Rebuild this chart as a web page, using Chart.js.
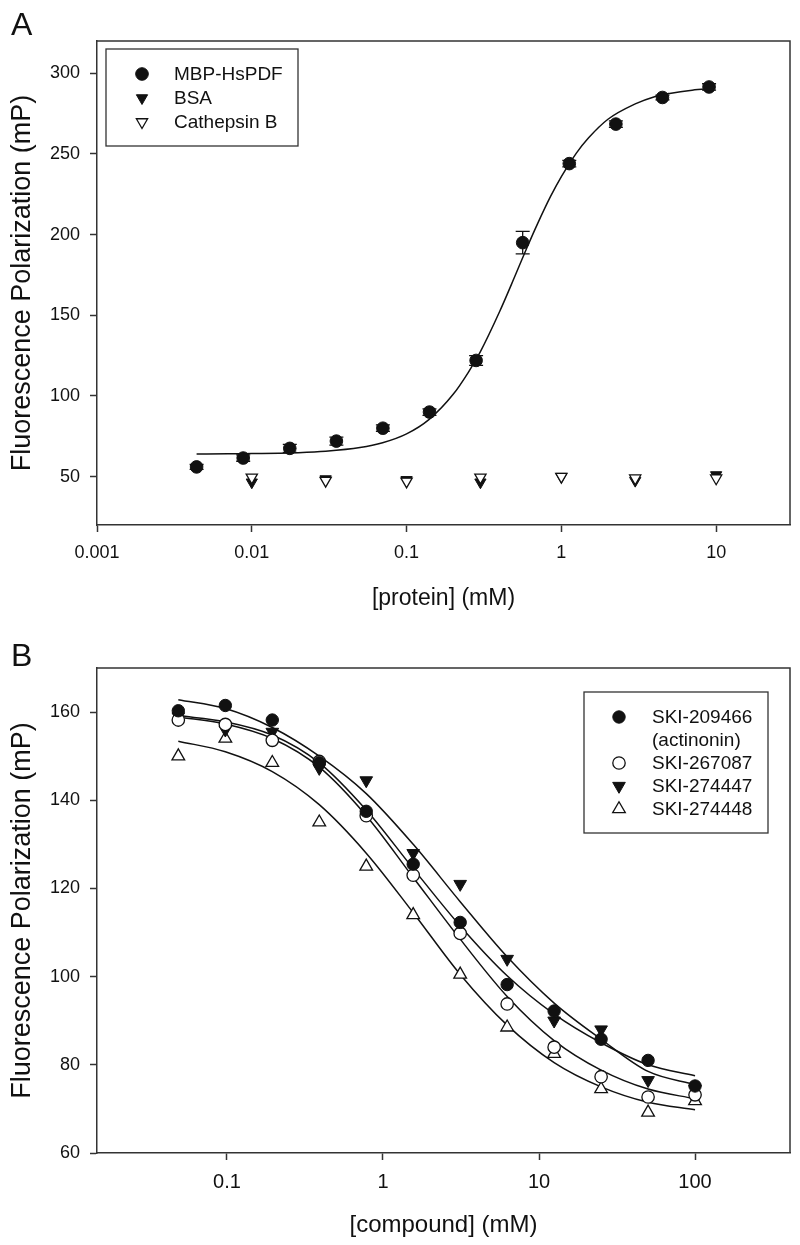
<!DOCTYPE html>
<html>
<head>
<meta charset="utf-8">
<script src="https://cdn.jsdelivr.net/npm/chart.js@4.4.0/dist/chart.umd.min.js"></script>
<style>
    body {
        margin: 0;
        width: 800px;
        height: 1245px;
        background: #fff;
        position: relative;
        overflow: hidden;
        font-family: "Liberation Sans", Arial, sans-serif;
    }
    .panel {
        position: absolute;
        left: 0;
        width: 800px;
    }
    #wrapA { top: 0; height: 620px; }
    #wrapB { top: 620px; height: 625px; }
    .tag {
        position: absolute;
        left: 11px;
        font-size: 32px;
        line-height: 32px;
        color: #111;
    }
</style>
</head>
<body>
<div class="panel" id="wrapA"><canvas id="chartA"></canvas></div>
<div class="panel" id="wrapB"><canvas id="chartB"></canvas></div>
<div class="tag" style="top: 8px">A</div>
<div class="tag" style="top: 639px">B</div>

<script>
// ---- Panel A data ----
const protConc = [0.0044, 0.0088, 0.0176, 0.0352, 0.0703, 0.1406, 0.2813, 0.5625, 1.125, 2.25, 4.5, 9];
const mbpFP = [56, 61.5, 67.5, 72, 80, 90, 122, 195, 244, 268.5, 285, 291.5];
const mbpErr = [1.5, 2, 2.5, 2.5, 2, 2, 3, 7, 2, 2, 1.5, 2];
const ctrlConc = [0.01, 0.03, 0.1, 0.3, 1, 3, 10];
const bsaFP = [46.5, 48.5, 48, 46.5, 50, 47.5, 51];
const cathFP = [49.5, 47.5, 47, 49.5, 50, 49, 49];
// fitted curve
const fitConcA = [0.0044, 0.007, 0.01, 0.015, 0.02, 0.03, 0.05, 0.07, 0.1, 0.14, 0.2, 0.25, 0.3, 0.4, 0.5, 0.6, 0.7, 0.85, 1, 1.25, 1.5, 2, 3, 4, 5, 7, 9.5];
const fitFPA = [64, 64.1, 64.3, 64.5, 64.8, 65.7, 68, 71, 76.5, 85.5, 101, 114.5, 127.5, 152.5, 174, 192, 206.5, 223.5, 236, 250.5, 260, 271.5, 281, 285.5, 287.5, 289.5, 290.5];
const xTicksA = [0.001, 0.01, 0.1, 1, 10];
const yTicksA = [50, 100, 150, 200, 250, 300];

// ---- Panel B data ----
const compConc = [0.0488, 0.0977, 0.1953, 0.3906, 0.7813, 1.5625, 3.125, 6.25, 12.5, 25, 50, 100];
const ski209466 = [160.3, 161.5, 158.2, 148.5, 137.5, 125.5, 112.3, 98.2, 92.2, 85.8, 81, 75.2];
const ski267087 = [158.2, 157.2, 153.6, 148.8, 136.5, 123, 109.8, 93.8, 84, 77.3, 72.7, 73.2];
const ski274447 = [159, 156, 155.5, 147.3, 144.5, 128, 121, 104, 90, 88, 76.5, 74.5];
const ski274448 = [150, 154, 148.5, 135, 125, 114, 100.5, 88.5, 82.5, 74.5, 69.2, 71.8];
// fitted curves
const fit209466 = [159.2, 157.8, 154.8, 148.5, 137.8, 124.5, 111.5, 100.2, 91.5, 85, 80, 77.5];
const fit267087 = [158.9, 157.3, 154, 147.5, 136.5, 122.5, 108.5, 95.5, 85.5, 78.8, 74.5, 72.3];
const fit274447 = [162.8, 160.8, 156.5, 150, 141.5, 130, 117, 104.5, 94, 85.8, 78.5, 75.5];
const fit274448 = [153.4, 151, 146.5, 139, 128, 114.5, 100.5, 89, 80.5, 75, 71.5, 69.8];
const xTicksB = [0.1, 1, 10, 100];
const yTicksB = [60, 80, 100, 120, 140, 160];

const SANS = "'Liberation Sans', Arial, sans-serif";
const INK = "#111";
const AXIS = "#333";

Chart.defaults.font.family = SANS;
Chart.defaults.color = INK;

const toPts = (xs, ys) => xs.map((x, i) => ({ x: x, y: ys[i] }));

function marker(label, xs, ys, style, filled, radius, order, extra) {
    return Object.assign({
        label: label,
        data: toPts(xs, ys),
        showLine: false,
        pointStyle: style === "down" ? "triangle" : style,
        pointRotation: style === "down" ? 180 : 0,
        pointRadius: radius,
        pointHoverRadius: radius,
        pointBackgroundColor: filled ? INK : "#fff",
        pointBorderColor: INK,
        pointBorderWidth: filled ? 1 : 1.3,
        order: order,
    }, extra || {});
}

function curve(xs, ys) {
    return {
        data: toPts(xs, ys),
        showLine: true,
        borderColor: INK,
        borderWidth: 1.5,
        pointRadius: 0,
        cubicInterpolationMode: "monotone",
        order: 9,
    };
}

// Frame on top and right of the plot area
const framePlugin = {
    id: "frame",
    afterDraw(chart) {
        const { ctx, chartArea: a } = chart;
        ctx.save();
        ctx.strokeStyle = AXIS;
        ctx.lineWidth = 1.5;
        ctx.beginPath();
        ctx.moveTo(a.left, a.top);
        ctx.lineTo(a.right, a.top);
        ctx.lineTo(a.right, a.bottom);
        ctx.stroke();
        ctx.restore();
    },
};

// Vertical error bars with caps
const errorBarPlugin = {
    id: "errorBars",
    beforeDatasetsDraw(chart) {
        const { ctx, scales } = chart;
        chart.data.datasets.forEach((ds) => {
            if (!ds.errors) return;
            ctx.save();
            ctx.strokeStyle = INK;
            ctx.lineWidth = 1.3;
            ds.data.forEach((p, i) => {
                const px = scales.x.getPixelForValue(p.x);
                const hi = scales.y.getPixelForValue(p.y + ds.errors[i]);
                const lo = scales.y.getPixelForValue(p.y - ds.errors[i]);
                ctx.beginPath();
                ctx.moveTo(px, hi);
                ctx.lineTo(px, lo);
                ctx.moveTo(px - 7, hi);
                ctx.lineTo(px + 7, hi);
                ctx.moveTo(px - 7, lo);
                ctx.lineTo(px + 7, lo);
                ctx.stroke();
            });
            ctx.restore();
        });
    },
};

// Boxed legend inside the plot area
function drawMarker(ctx, ds, x, y) {
    ctx.save();
    ctx.fillStyle = ds.pointBackgroundColor;
    ctx.strokeStyle = ds.pointBorderColor;
    ctx.lineWidth = ds.pointBorderWidth;
    Chart.helpers.drawPoint(ctx, {
        pointStyle: ds.pointStyle,
        rotation: ds.pointRotation,
        radius: ds.pointRadius,
        borderWidth: ds.pointBorderWidth,
    }, x, y);
    ctx.restore();
}

const boxLegendPlugin = {
    id: "boxLegend",
    afterDraw(chart, args, opts) {
        const { ctx, chartArea: a } = chart;
        const x0 = opts.right !== undefined ? a.right - opts.right - opts.width : a.left + opts.left;
        const y0 = a.top + opts.top;
        ctx.save();
        ctx.fillStyle = "#fff";
        ctx.fillRect(x0, y0, opts.width, opts.height);
        ctx.strokeStyle = AXIS;
        ctx.lineWidth = 1.3;
        ctx.strokeRect(x0, y0, opts.width, opts.height);
        ctx.font = opts.font;
        ctx.textBaseline = "middle";
        ctx.textAlign = "left";
        let y = y0 + opts.firstRow;
        chart.data.datasets.forEach((ds) => {
            if (!ds.label) return;
            drawMarker(ctx, ds, x0 + opts.markerX, y);
            [].concat(ds.label).forEach((line) => {
                ctx.fillStyle = INK;
                ctx.fillText(line, x0 + opts.textX, y + 1);
                y += opts.rowH;
            });
        });
        ctx.restore();
    },
};

function axisOptions(o) {
    return {
        x: {
            type: "logarithmic",
            min: o.xMin,
            max: o.xMax,
            afterBuildTicks: (s) => { s.ticks = o.xTicks.map((v) => ({ value: v })); },
            afterFit: (s) => { s.height = o.xHeight; },
            ticks: {
                callback: (v) => String(v),
                font: { size: o.xTickSize },
                color: INK,
                padding: o.xTickPad,
                maxRotation: 0,
                autoSkip: false,
            },
            grid: { drawOnChartArea: false, drawTicks: true, tickLength: 7, tickWidth: 1.5, tickColor: AXIS },
            border: { display: true, color: AXIS, width: 1.5 },
            title: {
                display: true,
                text: o.xTitle,
                font: { size: o.xTitleSize },
                color: INK,
                padding: { top: 0, bottom: o.xTitlePad },
            },
        },
        y: {
            type: "linear",
            min: o.yMin,
            max: o.yMax,
            afterBuildTicks: (s) => { s.ticks = o.yTicks.map((v) => ({ value: v })); },
            afterFit: (s) => { s.width = 97; },
            ticks: { font: { size: 18 }, color: INK, padding: 10 },
            grid: { drawOnChartArea: false, drawTicks: true, tickLength: 7, tickWidth: 1.5, tickColor: AXIS },
            border: { display: true, color: AXIS, width: 1.5 },
            title: {
                display: true,
                text: "Fluorescence Polarization (mP)",
                font: { size: 27 },
                color: INK,
                padding: { top: 6, bottom: 0 },
            },
        },
    };
}

// ---- Chart A ----
new Chart(document.getElementById("chartA"), {
    type: "scatter",
    data: {
        datasets: [
            marker("MBP-HsPDF", protConc, mbpFP, "circle", true, 6.3, 0, { errors: mbpErr }),
            marker("BSA", ctrlConc, bsaFP, "down", true, 6.5, 2),
            marker("Cathepsin B", ctrlConc, cathFP, "down", false, 6.5, 1),
            curve(fitConcA, fitFPA),
        ],
    },
    options: {
        responsive: true,
        maintainAspectRatio: false,
        animation: false,
        events: [],
        layout: { padding: { top: 41, right: 10, bottom: 0, left: 0 } },
        scales: axisOptions({
            xMin: 0.001, xMax: 30, xTicks: xTicksA, xHeight: 95,
            xTickSize: 18, xTickPad: 10,
            xTitle: "[protein] (mM)", xTitleSize: 23, xTitlePad: 8,
            yMin: 20, yMax: 320, yTicks: yTicksA,
        }),
        plugins: {
            legend: { display: false },
            tooltip: { enabled: false },
            boxLegend: {
                left: 9, top: 8, width: 192, height: 97,
                firstRow: 25, rowH: 24, markerX: 36, textX: 68,
                font: "19px " + SANS,
            },
        },
    },
    plugins: [errorBarPlugin, framePlugin, boxLegendPlugin],
});

// ---- Chart B ----
new Chart(document.getElementById("chartB"), {
    type: "scatter",
    data: {
        datasets: [
            marker(["SKI-209466", "(actinonin)"], compConc, ski209466, "circle", true, 6.2, 0),
            marker("SKI-267087", compConc, ski267087, "circle", false, 6.2, 1),
            marker("SKI-274447", compConc, ski274447, "down", true, 7.3, 2),
            marker("SKI-274448", compConc, ski274448, "triangle", false, 7.3, 3),
            curve(compConc, fit209466),
            curve(compConc, fit267087),
            curve(compConc, fit274447),
            curve(compConc, fit274448),
        ],
    },
    options: {
        responsive: true,
        maintainAspectRatio: false,
        animation: false,
        events: [],
        layout: { padding: { top: 48, right: 10, bottom: 0, left: 0 } },
        scales: axisOptions({
            xMin: 0.0147, xMax: 406, xTicks: xTicksB, xHeight: 92,
            xTickSize: 20, xTickPad: 10,
            xTitle: "[compound] (mM)", xTitleSize: 24, xTitlePad: 5,
            yMin: 60, yMax: 170, yTicks: yTicksB,
        }),
        plugins: {
            legend: { display: false },
            tooltip: { enabled: false },
            boxLegend: {
                right: 22, top: 24, width: 184, height: 141,
                firstRow: 25, rowH: 23, markerX: 35, textX: 68,
                font: "19px " + SANS,
            },
        },
    },
    plugins: [framePlugin, boxLegendPlugin],
});
</script>
</body>
</html>
